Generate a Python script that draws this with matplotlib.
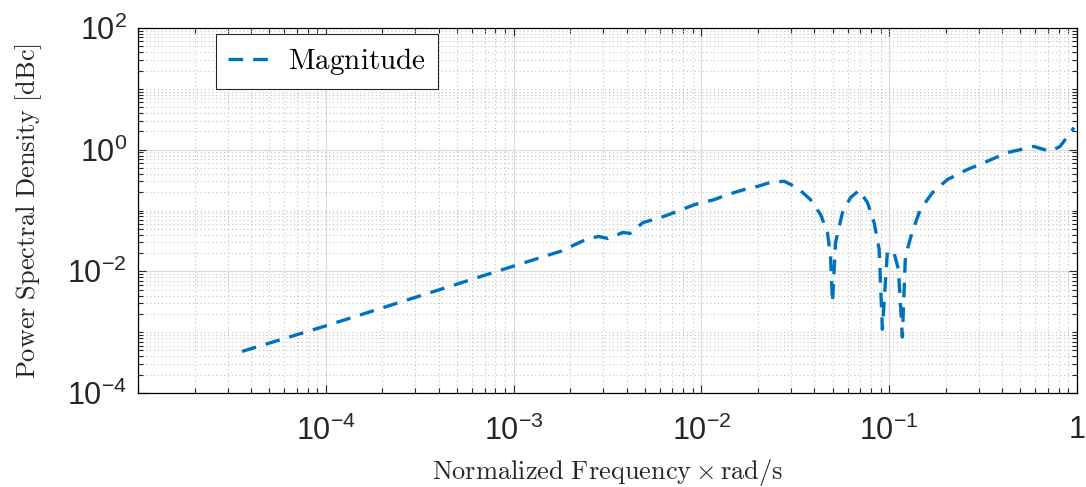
"""
Power spectral density vs normalized frequency (log-log, MATLAB style).
"""

import matplotlib
matplotlib.use("Agg")
import matplotlib.pyplot as plt
from matplotlib.ticker import FixedLocator, LogLocator, NullFormatter

matplotlib.rcParams.update({
    "font.family":      ["Liberation Sans", "DejaVu Sans"],
    "mathtext.fontset": "cm",
    "axes.linewidth":   0.9,
})

# data
freq = [3.58e-5, 1.0e-4, 1.0e-3, 1.79e-3, 2.39e-3, 2.82e-3, 3.18e-3, 3.82e-3,
        4.17e-3, 4.89e-3, 6.08e-3, 7.49e-3, 9.19e-3, 1.17e-2, 1.38e-2, 1.69e-2,
        2.0e-2, 2.34e-2, 2.76e-2, 3.25e-2, 3.81e-2, 4.31e-2, 4.69e-2, 4.87e-2,
        4.99e-2, 5.18e-2, 5.64e-2, 6.22e-2, 6.92e-2, 7.66e-2, 8.31e-2, 8.84e-2,
        9.2e-2, 9.78e-2, 0.106, 0.112, 0.1175, 0.122, 0.133, 0.1465, 0.170,
        0.204, 0.260, 0.332, 0.425, 0.589, 0.719, 0.813, 0.964]
psd = [4.83e-4, 1.27e-3, 1.22e-2, 2.15e-2, 3.26e-2, 3.75e-2, 3.47e-2, 4.36e-2,
       4.2e-2, 6.35e-2, 7.67e-2, 9.75e-2, 0.125, 0.151, 0.183, 0.221,
       0.25, 0.291, 0.302, 0.236, 0.151, 8.6e-2, 4.36e-2, 1.78e-2,
       3.1e-3, 2.98e-2, 9.27e-2, 0.163, 0.215, 0.135, 6.35e-2, 2.3e-2,
       1.12e-3, 2.15e-2, 2.05e-2, 1.08e-2, 8.3e-4, 1.78e-2, 4.58e-2, 0.104, 0.197,
       0.322, 0.470, 0.643, 0.893, 1.13, 0.938, 1.13, 2.3]

x_ticks = [1e-4, 1e-3, 1e-2, 1e-1, 1]
x_labels = [r"$\mathregular{10^{-4}}$", r"$\mathregular{10^{-3}}$",
            r"$\mathregular{10^{-2}}$", r"$\mathregular{10^{-1}}$", "1"]
y_ticks = [1e-4, 1e-2, 1, 1e2]
y_labels = [r"$\mathregular{10^{-4}}$", r"$\mathregular{10^{-2}}$",
            r"$\mathregular{10^{0}}$", r"$\mathregular{10^{2}}$"]

BLUE = "#0072BD"
DARK = "#262626"

fig = plt.figure(figsize=(10.86, 4.87), dpi=100)
ax = fig.add_axes([0.1271, 0.1930, 0.8646, 0.7495])

ax.plot(freq, psd, color=BLUE, lw=2.4, dashes=(4.4, 3.0),
        label=r"$\mathrm{Magnitude}$")

ax.set_xscale("log")
ax.set_yscale("log")
ax.set_xlim(1e-5, 1)
ax.set_ylim(1e-4, 1e2)

ax.xaxis.set_major_locator(FixedLocator(x_ticks))
ax.set_xticklabels(x_labels)
ax.yaxis.set_major_locator(FixedLocator(y_ticks))
ax.set_yticklabels(y_labels)
ax.xaxis.set_minor_locator(LogLocator(base=10, subs=range(1, 10), numticks=50))
ax.yaxis.set_minor_locator(LogLocator(base=10, subs=range(1, 10), numticks=50))
ax.xaxis.set_minor_formatter(NullFormatter())
ax.yaxis.set_minor_formatter(NullFormatter())

ax.tick_params(which="both", direction="in", top=True, right=True,
               color=DARK, width=0.8)
ax.tick_params(which="major", length=6)
ax.tick_params(which="minor", length=3.5)
ax.tick_params(axis="x", which="major", labelsize=22, pad=16, colors=DARK)
ax.tick_params(axis="y", which="major", labelsize=22, pad=8, colors=DARK)

ax.grid(True, which="major", color="#dcdcdc", lw=0.9, ls="-")
ax.grid(True, which="minor", color="#c2c2c2", lw=0.8, ls=(0, (1, 2.5)))
ax.set_axisbelow(True)

ax.set_xlabel(r"$\mathrm{Normalized\ Frequency} \times \mathrm{rad/s}$",
              fontsize=19, color=DARK)
ax.set_ylabel(r"$\mathrm{Power\ Spectral\ Density\ [dBc]}$",
              fontsize=19, color=DARK)
ax.xaxis.set_label_coords(0.5, -0.176)
ax.yaxis.set_label_coords(-0.100, 0.5)

leg = ax.legend(loc="upper left", bbox_to_anchor=(0.0828, 0.9836),
                borderaxespad=0, fontsize=21, fancybox=False, framealpha=1,
                edgecolor=DARK, handlelength=1.4, handletextpad=0.65,
                borderpad=0.42)
leg.get_frame().set_linewidth(0.8)

fig.savefig("out.png", dpi=100)
